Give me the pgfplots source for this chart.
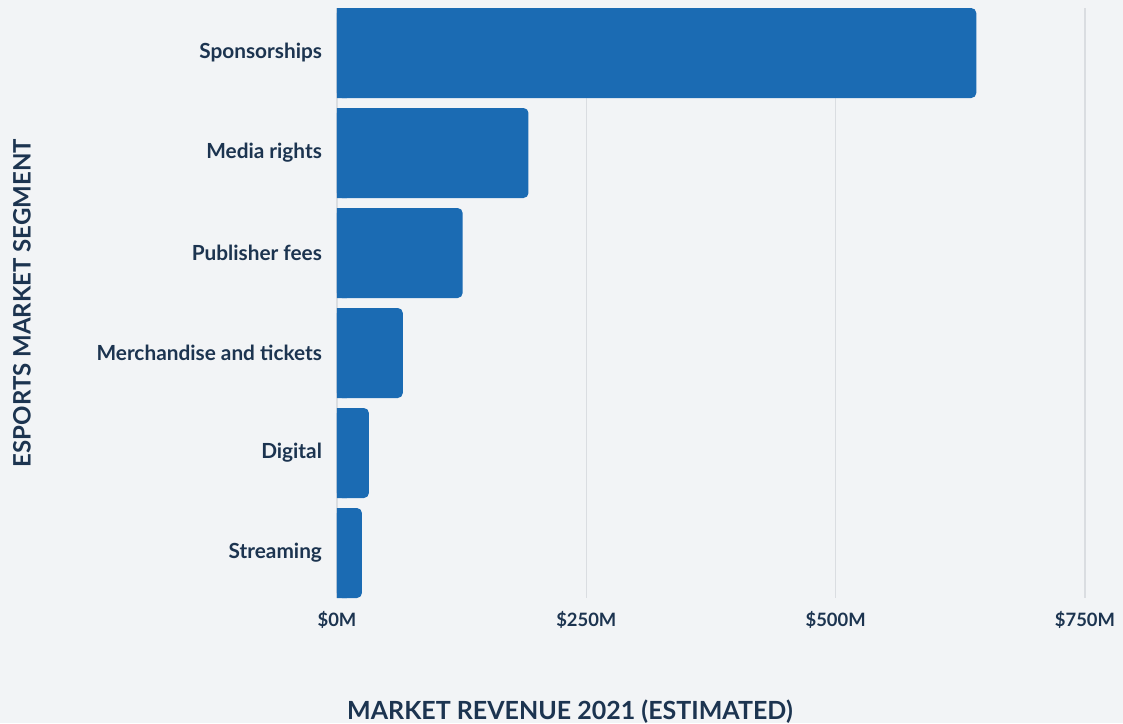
\documentclass[border=0pt]{standalone}
\usepackage{fontspec}
\setmainfont{Lato}
\usepackage{pgfplots}
\pgfplotsset{compat=1.18}
\definecolor{bgc}{HTML}{F2F4F6}
\definecolor{barc}{HTML}{1B6BB3}
\definecolor{txtc}{HTML}{1C3450}
\definecolor{gridc}{HTML}{DADDE1}

\begin{document}
\begin{tikzpicture}
  % page = 1123x723 px at 0.5pt per px, axis box lower left at origin
  \fill[bgc] (-168.5pt,-62.5pt) rectangle (393pt,299pt);
  \useasboundingbox (-168.5pt,-62.5pt) rectangle (393pt,299pt);
  \begin{axis}[
    at={(0,0)}, anchor=south west,
    scale only axis,
    width=374pt, height=295pt,
    xmin=0, xmax=750,
    ymin=-0.45, ymax=5.45,
    y dir=reverse,
    axis line style={draw=none},
    major tick length=0pt,
    xtick={0,250,500,750},
    xticklabels={\$0M,\$250M,\$500M,\$750M},
    ytick={0,1,2,3,4,5},
    yticklabels={Sponsorships,Media rights,Publisher fees,Merchandise and tickets,Digital,Streaming},
    xmajorgrids,
    grid style={gridc, line width=0.6pt},
    xticklabel style={font=\fontsize{9.2}{10}\selectfont\bfseries, text=txtc, yshift=-3pt},
    yticklabel style={font=\fontsize{10.4}{12}\selectfont\bfseries, text=txtc, xshift=-4pt},
    xlabel={MARKET REVENUE 2021 (ESTIMATED)},
    xlabel style={at={(rel axis cs:0.3115,0)}, anchor=center, yshift=-57pt,
      font=\fontsize{12.5}{14}\selectfont\bfseries, text=txtc},
    ylabel={ESPORTS MARKET SEGMENT},
    ylabel style={at={(rel axis cs:0,0.5)}, anchor=center, yshift=157.5pt,
      font=\fontsize{12}{13}\selectfont\bfseries, text=txtc},
  ]
    \addplot[xbar, bar shift=0pt, bar width=0.9, fill=barc, draw=none, rounded corners=2.5pt]
      coordinates {(641,0) (192,1) (126,2) (66,3) (32,4) (25,5)};
    % square off the left ends of the bars
    \addplot[xbar, bar shift=0pt, bar width=0.9, fill=barc, draw=none]
      coordinates {(10,0) (10,1) (10,2) (10,3) (10,4) (10,5)};
  \end{axis}
\end{tikzpicture}
\end{document}
